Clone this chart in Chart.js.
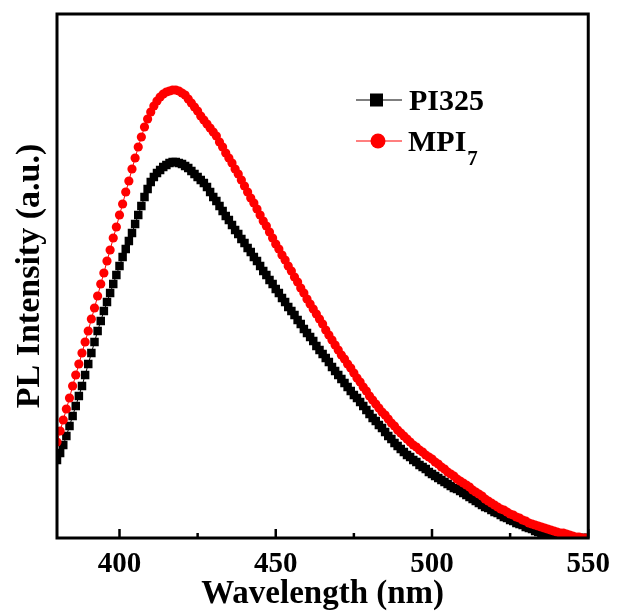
<!DOCTYPE html>
<html>
<head>
<meta charset="utf-8">
<script src="https://cdn.jsdelivr.net/npm/chart.js@4"></script>
<style>
  html, body { margin: 0; padding: 0; background: #fff; }
</style>
</head>
<body>
<canvas id="plChart" width="619" height="614"></canvas>
<script>
// ===== DATA (a.u.) =====
const wavelength = [
  380, 381, 382, 383, 384, 385, 386, 387, 388, 389,
  390, 391, 392, 393, 394, 395, 396, 397, 398, 399,
  400, 401, 402, 403, 404, 405, 406, 407, 408, 409,
  410, 411, 412, 413, 414, 415, 416, 417, 418, 419,
  420, 421, 422, 423, 424, 425, 426, 427, 428, 429,
  430, 431, 432, 433, 434, 435, 436, 437, 438, 439,
  440, 441, 442, 443, 444, 445, 446, 447, 448, 449,
  450, 451, 452, 453, 454, 455, 456, 457, 458, 459,
  460, 461, 462, 463, 464, 465, 466, 467, 468, 469,
  470, 471, 472, 473, 474, 475, 476, 477, 478, 479,
  480, 481, 482, 483, 484, 485, 486, 487, 488, 489,
  490, 491, 492, 493, 494, 495, 496, 497, 498, 499,
  500, 501, 502, 503, 504, 505, 506, 507, 508, 509,
  510, 511, 512, 513, 514, 515, 516, 517, 518, 519,
  520, 521, 522, 523, 524, 525, 526, 527, 528, 529,
  530, 531, 532, 533, 534, 535, 536, 537, 538, 539,
  540, 541, 542, 543, 544, 545, 546, 547, 548, 549,
  550
];

const pi325 = [
  78, 85, 93, 102, 112, 122, 132, 142, 152, 163,
  174, 185, 196, 207, 217, 227, 236, 245, 254, 263,
  272, 281, 289, 297, 305, 314, 323, 332, 341, 349,
  356, 361, 365, 368, 371, 373, 375, 376, 376, 375,
  374, 372, 370, 367, 364, 361, 358, 355, 351, 346,
  341, 337, 332, 327, 322, 318, 313, 308, 304, 299,
  295, 290, 286, 281, 277, 272, 267, 263, 258, 254,
  249, 245, 240, 236, 231, 227, 223, 218, 214, 209,
  205, 201, 197, 192, 188, 184, 180, 176, 171, 167,
  163, 159, 155, 151, 147, 143, 140, 136, 132, 128,
  124, 120, 117, 113, 110, 106, 102, 99, 95, 92,
  89, 86, 83, 81, 78, 76, 73, 71, 69, 66,
  64, 62, 60, 58, 56, 54, 52, 50, 49, 47,
  45, 43, 41, 39, 37, 35, 33, 31, 30, 28,
  26, 25, 23, 21, 20, 18, 17, 15, 14, 13,
  11, 10, 9, 7, 6, 4, 3, 2, 1, 0,
  0, 0, 0, 0, 0, 0, 0, 0, 0, 0,
  0
];

const mpi7 = [
  96, 107, 118, 129, 140, 152, 163, 174, 185, 196,
  207, 219, 230, 242, 254, 265, 277, 288, 300, 311,
  323, 334, 346, 357, 369, 380, 391, 401, 411, 419,
  426, 432, 437, 441, 444, 446, 447, 448, 448, 447,
  445, 443, 439, 435, 431, 427, 422, 418, 414, 410,
  406, 402, 396, 391, 385, 380, 375, 369, 364, 358,
  352, 346, 340, 335, 329, 323, 317, 312, 306, 300,
  294, 289, 283, 278, 272, 267, 261, 256, 250, 245,
  239, 234, 229, 224, 219, 214, 208, 203, 198, 193,
  188, 183, 179, 174, 170, 165, 160, 156, 151, 147,
  142, 138, 134, 130, 126, 123, 119, 115, 112, 108,
  105, 102, 99, 96, 93, 91, 88, 86, 83, 81,
  79, 76, 74, 71, 69, 66, 64, 62, 59, 57,
  55, 53, 51, 48, 46, 44, 42, 39, 37, 35,
  33, 31, 29, 28, 26, 24, 23, 21, 20, 18,
  17, 15, 14, 13, 12, 11, 10, 9, 8, 7,
  6, 5, 5, 4, 3, 2, 1, 1, 0, 0,
  0
];

const xMajorTicks = [400, 450, 500, 550];
const xMinorTicks = [425, 475, 525];

const SERIF = "'Liberation Serif', 'Times New Roman', serif";

// ===== FRAME + INWARD TICKS =====
const framePlugin = {
  id: "frame",
  afterDatasetsDraw(chart) {
    const { ctx, chartArea: a, scales: { x } } = chart;
    ctx.save();
    ctx.strokeStyle = "#000";
    ctx.lineWidth = 3;
    ctx.strokeRect(a.left, a.top, a.right - a.left, a.bottom - a.top);

    ctx.lineWidth = 2.5;
    const tick = (v, len) => {
      const px = x.getPixelForValue(v);
      ctx.beginPath();
      ctx.moveTo(px, a.bottom);
      ctx.lineTo(px, a.bottom - len);
      ctx.stroke();
    };
    xMajorTicks.forEach(v => tick(v, 9));
    xMinorTicks.forEach(v => tick(v, 5));
    ctx.restore();
  }
};

// ===== LEGEND INSIDE THE PLOT =====
const legendPlugin = {
  id: "insideLegend",
  afterDraw(chart) {
    const ctx = chart.ctx;
    ctx.save();

    // PI325
    ctx.strokeStyle = "#000";
    ctx.lineWidth = 1.2;
    ctx.beginPath();
    ctx.moveTo(356, 100);
    ctx.lineTo(402, 100);
    ctx.stroke();
    ctx.fillStyle = "#000";
    ctx.fillRect(370, 93.5, 13, 13);

    // MPI7
    ctx.strokeStyle = "#ff0000";
    ctx.beginPath();
    ctx.moveTo(356, 141);
    ctx.lineTo(402, 141);
    ctx.stroke();
    ctx.fillStyle = "#ff0000";
    ctx.beginPath();
    ctx.arc(378, 141, 7.5, 0, Math.PI * 2);
    ctx.fill();

    ctx.fillStyle = "#000";
    ctx.textBaseline = "alphabetic";
    ctx.textAlign = "left";
    ctx.font = "bold 30px " + SERIF;
    ctx.fillText("PI325", 409, 110);
    ctx.fillText("MPI", 408, 151);
    const w = ctx.measureText("MPI").width;
    ctx.font = "bold 21px " + SERIF;
    ctx.fillText("7", 408 + w + 1, 165);

    ctx.restore();
  }
};

const ctx = document.getElementById("plChart").getContext("2d");

new Chart(ctx, {
  type: "line",
  data: {
    labels: wavelength,
    datasets: [
      {
        label: "PI325",
        data: wavelength.map((w, i) => ({ x: w, y: pi325[i] })),
        borderColor: "#000",
        backgroundColor: "#000",
        borderWidth: 1,
        pointStyle: "rect",
        pointRadius: 6,
        pointBorderWidth: 0,
        pointBackgroundColor: "#000",
        order: 2
      },
      {
        label: "MPI7",
        data: wavelength.map((w, i) => ({ x: w, y: mpi7[i] })),
        borderColor: "#ff0000",
        backgroundColor: "#ff0000",
        borderWidth: 1,
        pointStyle: "circle",
        pointRadius: 4.6,
        pointBorderWidth: 0,
        pointBackgroundColor: "#ff0000",
        order: 1
      }
    ]
  },
  options: {
    responsive: false,
    animation: false,
    events: [],
    layout: { padding: { top: 14, right: 30, left: 0, bottom: 0 } },
    plugins: {
      legend: { display: false },
      tooltip: { enabled: false }
    },
    scales: {
      x: {
        type: "linear",
        min: 380,
        max: 550,
        grid: { display: false, drawTicks: false },
        border: { display: false },
        afterBuildTicks: s => { s.ticks = xMajorTicks.map(v => ({ value: v })); },
        ticks: {
          color: "#000",
          font: { family: SERIF, weight: "bold", size: 29 },
          padding: 9,
          maxRotation: 0,
          autoSkip: false
        },
        title: {
          display: true,
          text: "Wavelength (nm)",
          color: "#000",
          font: { family: SERIF, weight: "bold", size: 33 },
          padding: { top: 0, bottom: 0 }
        },
        afterFit: s => { s.height = 76; }
      },
      y: {
        min: 0,
        max: 524,
        grid: { display: false, drawTicks: false },
        border: { display: false },
        ticks: { display: false },
        title: {
          display: true,
          text: "PL Intensity (a.u.)",
          color: "#000",
          font: { family: SERIF, weight: "bold", size: 34 },
          padding: { top: 10, bottom: 0 }
        },
        afterFit: s => { s.width = 57; }
      }
    }
  },
  plugins: [framePlugin, legendPlugin]
});
</script>
</body>
</html>
